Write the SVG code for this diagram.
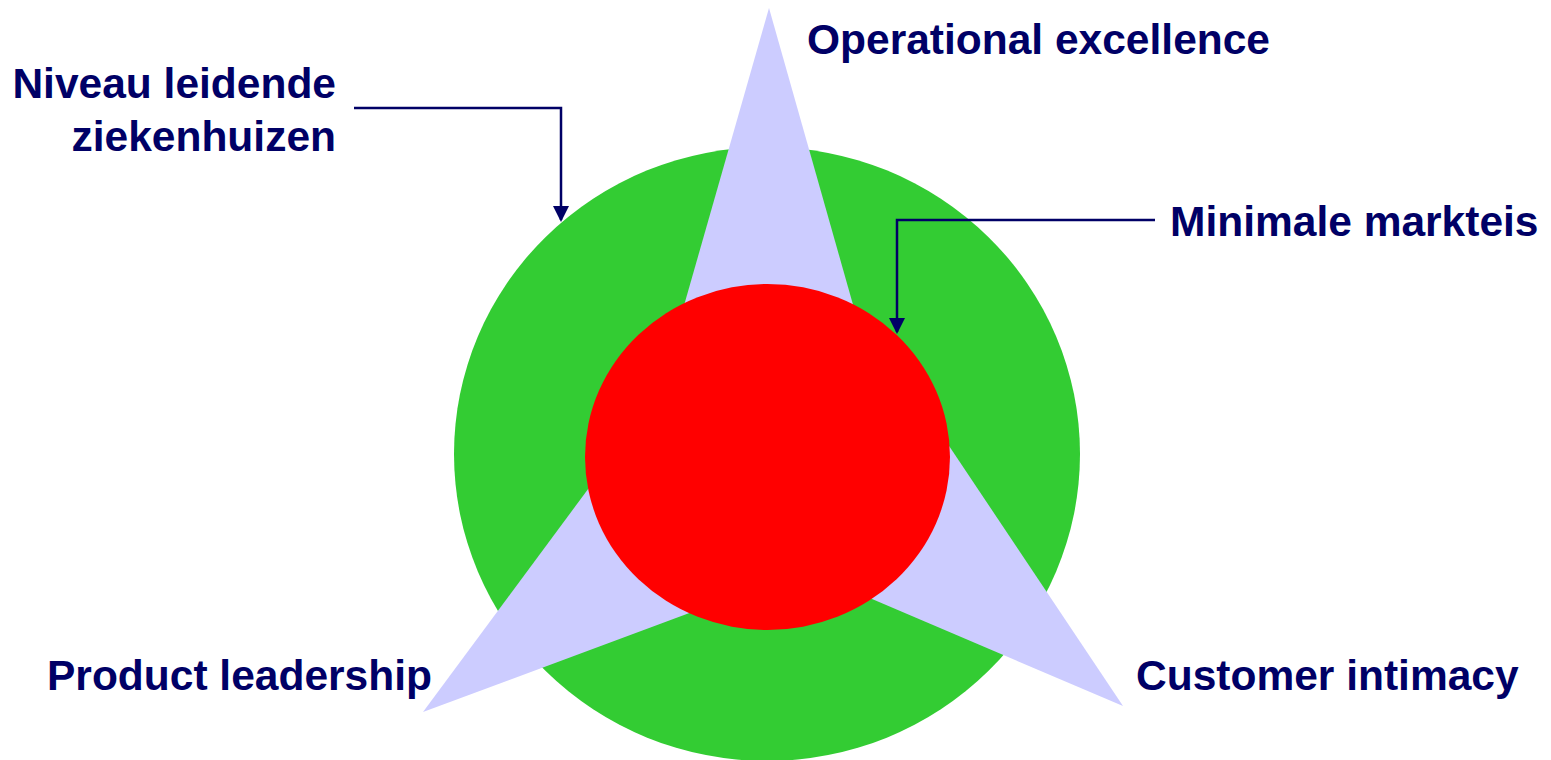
<svg xmlns="http://www.w3.org/2000/svg" width="1551" height="760" viewBox="0 0 1551 760">
  <defs>
    <style>
      .lbl { font-family: "Liberation Sans", Arial, sans-serif; font-weight: bold; font-size: 42.5px; fill: #000066; }
      .wire { fill: none; stroke: #000066; stroke-width: 2.5; }
      .spike { fill: #CCCCFF; }
    </style>
    <marker id="head" markerWidth="16" markerHeight="16" refX="14" refY="8" orient="auto" markerUnits="userSpaceOnUse">
      <path d="M0,0 L16,8 L0,16 Z" fill="#000066"/>
    </marker>
  </defs>
  <rect width="1551" height="760" fill="#ffffff"/>

  <!-- outer ring: leading hospitals -->
  <g id="outer">
    <ellipse cx="767" cy="454" rx="313" ry="307" fill="#33CC33"/>
  </g>

  <!-- three strategy spikes -->
  <g id="spikes">
    <polygon class="spike" points="769,8 880,400 767,457 657,400"/>
    <polygon class="spike" points="423,712 637,423 767,457 770,583"/>
    <polygon class="spike" points="1123,706 915,395 767,457 797,567"/>
  </g>

  <!-- inner core: minimal requirement -->
  <g id="core">
    <ellipse cx="767.5" cy="457" rx="182.5" ry="173" fill="#FF0000"/>
  </g>

  <!-- callouts -->
  <g id="connectors">
    <polyline class="wire" points="354,108 561,108 561,220" marker-end="url(#head)"/>
    <polyline class="wire" points="1155,220 897,220 897,332" marker-end="url(#head)"/>
  </g>

  <g id="label-niveau">
    <text class="lbl" x="336" y="98" text-anchor="end">Niveau leidende</text>
    <text class="lbl" x="336" y="151" text-anchor="end">ziekenhuizen</text>
  </g>
  <g id="label-operational">
    <text class="lbl" x="807" y="54">Operational excellence</text>
  </g>
  <g id="label-minimale">
    <text class="lbl" x="1170" y="236">Minimale markteis</text>
  </g>
  <g id="label-product">
    <text class="lbl" x="47" y="690">Product leadership</text>
  </g>
  <g id="label-customer">
    <text class="lbl" x="1136" y="690">Customer intimacy</text>
  </g>
</svg>
